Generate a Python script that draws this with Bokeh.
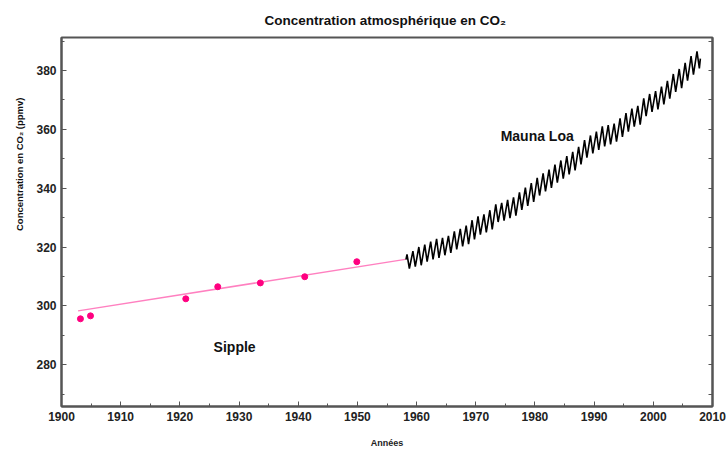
from bokeh.plotting import figure
from bokeh.models import (Range1d, LinearAxis, SingleIntervalTicker, Label, Title,
                          CustomLabelingPolicy)
from bokeh.embed import file_html
from bokeh.resources import INLINE

# ---- data ----
sipple_years = [1903.2, 1904.9, 1921.0, 1926.4, 1933.6, 1941.1, 1949.9]
sipple_ppm = [295.6, 296.6, 302.4, 306.5, 307.8, 309.9, 315.0]

fit_years = [1902.8, 1958.1]
fit_ppm = [298.3, 315.8]

ml_years = list(range(1958, 2008))
ml_peak = [317.5, 318.6, 320.0, 320.8, 321.8, 322.8, 323.1, 323.8, 325.3, 326.2,
           327.3, 329.1, 330.4, 331.1, 332.5, 334.5, 335.0, 336.0, 336.9, 338.6,
           340.2, 341.7, 343.5, 345.0, 346.3, 348.0, 349.4, 350.9, 352.3, 354.0,
           356.3, 357.9, 359.2, 361.0, 361.4, 361.9, 363.7, 365.5, 367.0, 368.0,
           370.5, 372.0, 373.0, 374.5, 376.5, 378.8, 380.5, 382.6, 384.9, 386.5]
ml_trough = [312.7, 313.3, 313.8, 315.0, 315.8, 316.3, 317.2, 318.0, 319.2, 320.2,
             321.0, 322.6, 324.2, 325.0, 326.0, 328.5, 329.0, 329.8, 330.7, 332.6,
             334.0, 335.3, 337.5, 338.9, 340.1, 341.9, 343.2, 344.7, 346.0, 348.1,
             350.4, 351.8, 353.0, 354.2, 354.9, 355.8, 357.4, 359.2, 360.9, 361.6,
             364.5, 365.9, 366.8, 368.5, 370.4, 372.7, 374.0, 376.5, 378.6, 380.7]
ml_first = (1958.2, 315.7)
ml_last = (2007.95, 384.0)
PEAK_OFFSET = 0.38   # May
TROUGH_OFFSET = 0.78  # October

ml_x = [ml_first[0]]
ml_y = [ml_first[1]]
for yr, pk, tr in zip(ml_years, ml_peak, ml_trough):
    ml_x += [yr + PEAK_OFFSET, yr + TROUGH_OFFSET]
    ml_y += [pk, tr]
ml_x.append(ml_last[0])
ml_y.append(ml_last[1])

FONT = "Liberation Sans"
AXC = "#555555"

p = figure(width=726, height=450, output_backend="svg", toolbar_location=None,
           x_range=Range1d(1900, 2010), y_range=Range1d(265.8, 391.2),
           min_border_left=61, min_border_right=14, min_border_top=37,
           min_border_bottom=43)
p.background_fill_color = "white"
p.border_fill_color = "white"
p.outline_line_color = AXC
p.outline_line_width = 2
p.xgrid.visible = False
p.ygrid.visible = False

p.title.text = "Concentration atmosphérique en CO₂"
p.title.text_font = FONT
p.title.text_font_style = "bold"
p.title.text_font_size = "13.5px"
p.title.text_color = "#111111"
p.title.align = "left"
p.title.offset = 203
p.title.standoff = 20

ylab = Title(text="Concentration en CO₂ (ppmv)", text_font=FONT,
             text_font_style="bold", text_font_size="9.5px",
             text_color="#111111", align="right", offset=60, standoff=18)
p.add_layout(ylab, "left")

xax = p.xaxis[0]
xax.ticker = SingleIntervalTicker(interval=10, num_minor_ticks=2)
yax = p.yaxis[0]
yax.ticker = SingleIntervalTicker(interval=20, num_minor_ticks=2)
for ax in (xax, yax):
    ax.axis_line_color = AXC
    ax.axis_line_width = 2
    ax.major_tick_in = 5
    ax.major_tick_out = 0
    ax.minor_tick_in = 3
    ax.minor_tick_out = 0
    ax.major_tick_line_color = AXC
    ax.minor_tick_line_color = AXC
    ax.major_label_text_font = FONT
    ax.major_label_text_font_style = "bold"
    ax.major_label_text_font_size = "12px"
    ax.major_label_text_color = "#222222"
    ax.major_label_standoff = 5
xax.major_label_standoff = 5

xax.axis_label = "Années"
xax.axis_label_text_font = FONT
xax.axis_label_text_font_style = "bold"
xax.axis_label_text_font_size = "9px"
xax.axis_label_text_color = "#222222"
xax.axis_label_standoff = 14

right = LinearAxis(ticker=SingleIntervalTicker(interval=10, num_minor_ticks=0))
right.axis_line_color = AXC
right.axis_line_width = 2
right.major_tick_in = 4
right.major_tick_out = 0
right.minor_tick_in = 0
right.minor_tick_out = 0
right.major_tick_line_color = AXC
right.major_label_text_font_size = "1px"
right.major_label_policy = CustomLabelingPolicy(
    code="for (const i of indices) { if (false) { yield i } }")
right.major_label_standoff = 0
p.add_layout(right, "right")

# Sipple fit line and points
p.line(fit_years, fit_ppm, line_color="#ff80c0", line_width=1.5)
p.scatter(sipple_years, sipple_ppm, size=6, fill_color="#ff0080",
          line_color="#ff0080")

# Mauna Loa
p.line(ml_x, ml_y, line_color="black", line_width=1.6)

# texts
p.add_layout(Label(x=1974.2, y=357.6, text="Mauna Loa", text_font=FONT,
                   text_font_style="bold", text_font_size="14px",
                   text_color="#111111", text_baseline="middle",
                   text_align="left"))
p.add_layout(Label(x=1925.7, y=286.1, text="Sipple", text_font=FONT,
                   text_font_style="bold", text_font_size="14px",
                   text_color="#111111", text_baseline="middle",
                   text_align="left"))

open("out.html", "w").write(file_html(p, INLINE))
